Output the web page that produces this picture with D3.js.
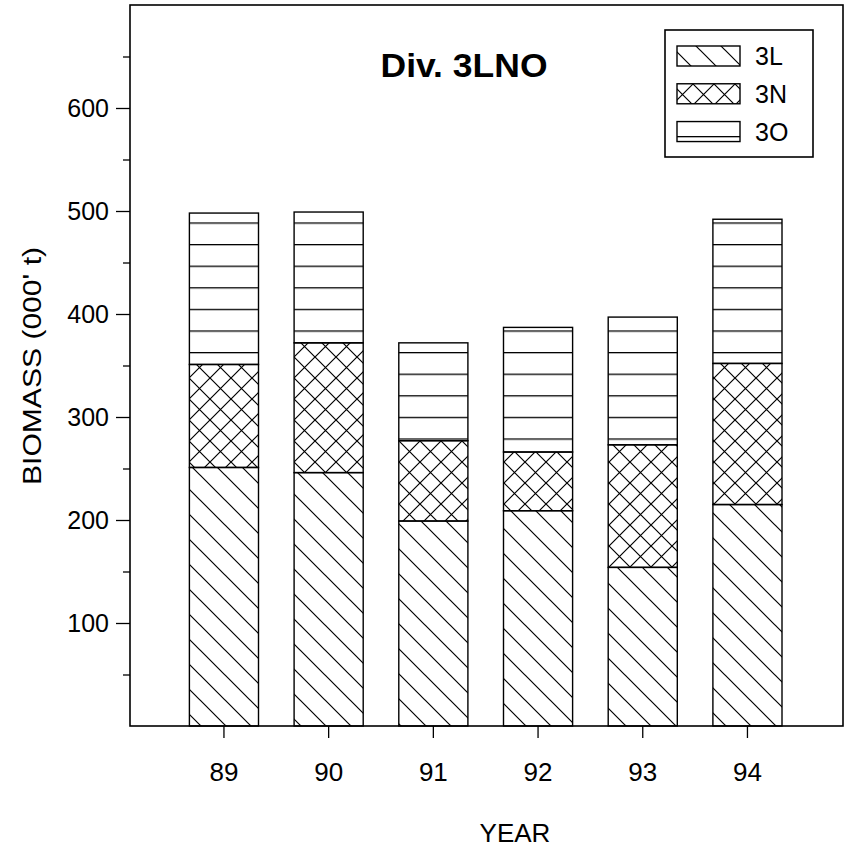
<!DOCTYPE html>
<html><head><meta charset="utf-8">
<script src="https://cdn.jsdelivr.net/npm/d3@7"></script>
<style>body{margin:0;background:#fff} svg{display:block} text{font-family:"Liberation Sans",Arial,sans-serif;fill:#000}</style>
</head><body><svg id="c" width="856" height="852"></svg>
<script>
const years = ["89","90","91","92","93","94"];
const series = ["3L","3N","3O"];
const v3L = [251,246,199,209,154,215];
const v3N = [100,126,78,57,119,137];
const v3O = [147,127,95,121,124,140];
const yMajor = [100,200,300,400,500,600];
const yMinor = [50,150,250,350,450,550,650];

const rows = years.map((y,i)=>({year:y,"3L":v3L[i],"3N":v3N[i],"3O":v3O[i]}));
const svg = d3.select("#c");
const L=130, R=843, T=5, B=726;
const x = d3.scaleBand().domain(years).range([171.6,799.8]).paddingInner(0.34).paddingOuter(0.17);
const y = d3.scaleLinear().domain([0,700]).range([B,T]);

const defs = svg.append("defs");
const p1 = defs.append("pattern").attr("id","pL").attr("patternUnits","userSpaceOnUse").attr("width",25).attr("height",25);
p1.append("path").attr("d","M-5,-5L30,30M-5,20L5,30M20,-5L30,5").attr("stroke","#000").attr("stroke-width",1.2);
const p2 = defs.append("pattern").attr("id","pN").attr("patternUnits","userSpaceOnUse").attr("width",21).attr("height",21);
p2.append("path").attr("d","M0,0L21,21M21,0L0,21").attr("stroke","#000").attr("stroke-width",1.2);
const p3 = defs.append("pattern").attr("id","pO").attr("patternUnits","userSpaceOnUse").attr("width",20).attr("height",21.6).attr("y",223-0.6);
p3.append("path").attr("d","M0,0.6L20,0.6").attr("stroke","#000").attr("stroke-width",1.4);
const fills = {"3L":"url(#pL)","3N":"url(#pN)","3O":"url(#pO)"};

const stack = d3.stack().keys(series)(rows);
svg.append("g").selectAll("g").data(stack).join("g")
  .attr("fill",d=>fills[d.key])
  .selectAll("rect").data(d=>d).join("rect")
  .attr("x",d=>x(d.data.year)).attr("width",x.bandwidth())
  .attr("y",d=>y(d[1])).attr("height",d=>y(d[0])-y(d[1]))
  .attr("stroke","#000").attr("stroke-width",1.4);

svg.append("rect").attr("x",L).attr("y",T).attr("width",R-L).attr("height",B-T)
  .attr("fill","none").attr("stroke","#000").attr("stroke-width",1.6);

const ya = svg.append("g").attr("transform",`translate(${L},0)`)
  .call(d3.axisLeft(y).tickValues(yMajor).tickSize(14).tickPadding(7).tickFormat(d3.format("d")));
ya.select(".domain").remove();
ya.selectAll("line").attr("stroke","#000").attr("stroke-width",1.3);
ya.selectAll("text").attr("font-size",25).attr("font-family","Liberation Sans, Arial, sans-serif");
const ym = svg.append("g").attr("transform",`translate(${L},0)`)
  .call(d3.axisLeft(y).tickValues(yMinor).tickSize(7).tickFormat(""));
ym.select(".domain").remove();
ym.selectAll("line").attr("stroke","#000").attr("stroke-width",1.3);

const xa = svg.append("g").attr("transform",`translate(0,${B})`)
  .call(d3.axisBottom(x).tickSize(12).tickPadding(25));
xa.select(".domain").remove();
xa.selectAll("line").attr("stroke","#000").attr("stroke-width",1.3);
xa.selectAll("text").attr("font-size",26).attr("font-family","Liberation Sans, Arial, sans-serif");

svg.append("text").attr("transform","translate(41,366) rotate(-90)").attr("text-anchor","middle")
  .attr("font-size",25).attr("textLength",238).attr("lengthAdjust","spacingAndGlyphs").text("BIOMASS (000' t)");
svg.append("text").attr("x",515).attr("y",842).attr("text-anchor","middle").attr("font-size",26).text("YEAR");
svg.append("text").attr("x",464).attr("y",77).attr("text-anchor","middle").attr("font-size",33).attr("font-weight","bold")
  .attr("textLength",167).attr("lengthAdjust","spacingAndGlyphs").text("Div. 3LNO");

const lg = svg.append("g");
lg.append("rect").attr("x",665).attr("y",30).attr("width",148).attr("height",127).attr("fill","#fff").attr("stroke","#000").attr("stroke-width",1.6);
const ly = d3.scaleBand().domain(series).range([43,145]).paddingInner(0.3);
lg.selectAll("rect.sw").data(series).join("rect").attr("class","sw")
  .attr("x",677).attr("y",d=>ly(d)+3).attr("width",63).attr("height",20)
  .attr("fill",d=>fills[d]).attr("stroke","#000").attr("stroke-width",1.4);
lg.selectAll("text.lt").data(series).join("text").attr("class","lt")
  .attr("x",755).attr("y",d=>ly(d)+22).attr("font-size",25).text(d=>d);
</script></body></html>
